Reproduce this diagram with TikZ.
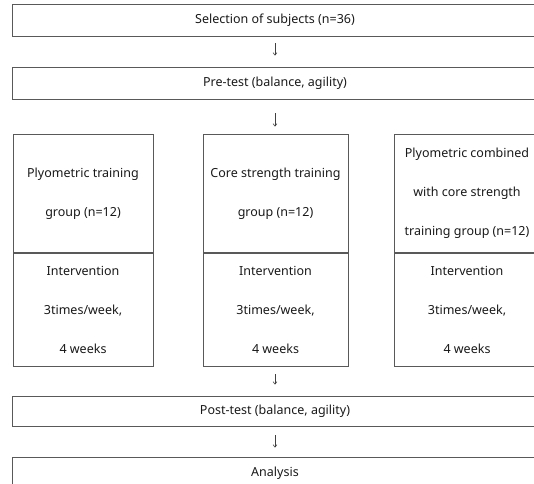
\documentclass[tikz,border=0pt]{standalone}
\usepackage{fontspec}
\setmainfont{Noto Sans}
\usetikzlibrary{positioning,arrows.meta}

\begin{document}
\begin{tikzpicture}[x=1pt,y=-1pt,
    box/.style={draw=black!65,line width=0.8pt,minimum width=526pt,minimum height=32pt,
        inner sep=0pt,text=black!90,font=\fontsize{12.5}{15}\selectfont},
    grp/.style={draw=black!65,line width=0.8pt,align=center,inner sep=0pt,
        text=black!90,font=\fontsize{12.5}{39}\selectfont},
    arr/.style={-{Straight Barb[length=2.5pt,width=4pt]},black!75,line width=0.6pt}]
        \useasboundingbox (0,0) rectangle (534,483);
        \clip (0,0) rectangle (534,483);
        % main steps
        \node[box] (sel) at (275,20) {Selection of subjects (n=36)};
        \node[box] (pre) at (275,83) {Pre-test (balance, agility)};
        \node[box,minimum height=30pt] (post) at (275,411) {Post-test (balance, agility)};
        \node[box] (ana) at (275,473) {Analysis};
        % groups
        \node[grp,minimum width=140pt,minimum height=118.6pt] (atop) at (83,193.3) {Plyometric training\\group (n=12)};
        \node[grp,minimum width=140pt,minimum height=113.4pt,below=0pt of atop] (abot) {Intervention\\3times/week,\\4 weeks};
        \node[grp,minimum width=145pt,minimum height=118.6pt] (btop) at (275.5,193.3) {Core strength training\\group (n=12)};
        \node[grp,minimum width=145pt,minimum height=113.4pt,below=0pt of btop] (bbot) {Intervention\\3times/week,\\4 weeks};
        \node[grp,minimum width=146pt,minimum height=118.6pt] (ctop) at (467,193.3) {Plyometric combined\\with core strength\\training group (n=12)};
        \node[grp,minimum width=146pt,minimum height=113.4pt,below=0pt of ctop] (cbot) {Intervention\\3times/week,\\4 weeks};
        % arrows
        \draw[arr,shorten <=7pt,shorten >=11pt] (sel) -- (pre);
        \draw[arr,shorten <=14pt,shorten >=7pt] (pre.south) -- (pre.south |- btop.north);
        \draw[arr,shorten <=7pt,shorten >=11pt] (bbot.south -| post.north) -- (post.north);
        \draw[arr,shorten <=9pt,shorten >=9pt] (post) -- (ana);
    \end{tikzpicture}
\end{document}
